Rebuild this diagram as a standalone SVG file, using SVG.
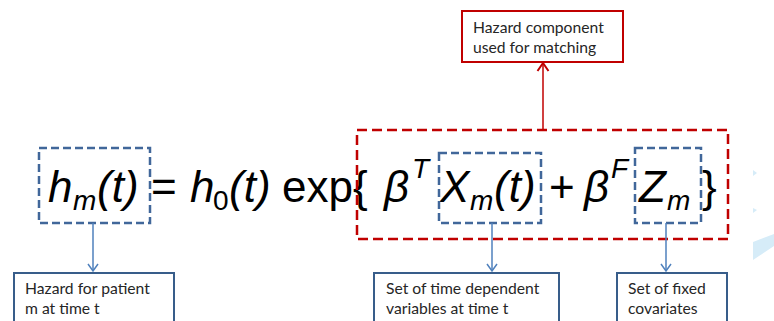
<svg xmlns="http://www.w3.org/2000/svg" width="774" height="321" viewBox="0 0 774 321">
<defs>
<style>
.eq{font-family:"Liberation Sans",Arial,sans-serif;font-size:44px;fill:#000}
.it{font-style:italic}
.sub{font-family:"Liberation Sans",Arial,sans-serif;font-size:28px;font-style:italic;fill:#000}
.lbl{font-family:Lato,"Open Sans",sans-serif;font-size:15.7px;fill:#262626}
.bdash{fill:none;stroke:#41679a;stroke-width:2.5;stroke-dasharray:8 4}
.rdash{fill:none;stroke:#c00000;stroke-width:2.5;stroke-dasharray:10 5}
.bbox{fill:#fff;stroke:#385d8a;stroke-width:2}
.rbox{fill:#fff;stroke:#c00000;stroke-width:2}
.bcon{stroke:#4f81bd;stroke-width:1.5;fill:none}
.rcon{stroke:#c00000;stroke-width:1.5;fill:none}
</style>
<marker id="ab" markerWidth="12" markerHeight="12" refX="9" refY="6" orient="auto" markerUnits="userSpaceOnUse">
<path d="M2,1 L9,6 L2,11" fill="none" stroke="#4f81bd" stroke-width="1.5"/>
</marker>
<marker id="ar" markerWidth="14" markerHeight="14" refX="10" refY="7" orient="auto" markerUnits="userSpaceOnUse">
<path d="M2,1.5 L10,7 L2,12.5" fill="none" stroke="#c00000" stroke-width="2"/>
</marker>
</defs>
<rect width="774" height="321" fill="#fff"/>
<g id="decor" fill="#d6ecf8">
<polygon points="753,170 757,173 753,176"/>
<polygon points="753,208 757,210 753,213"/>
<polygon points="753,242 774,234 774,246 753,260"/>
</g>
<g id="equation">
<text class="eq it" x="48" y="202">h</text>
<text class="sub" x="73" y="210">m</text>
<text class="eq it" x="97" y="202">(t)</text>
<text class="eq" x="151" y="202">=</text>
<text class="eq it" x="190" y="202">h</text>
<text class="sub" x="213" y="210" style="font-style:normal">0</text>
<text class="eq it" x="229" y="202">(t)</text>
<text class="eq" x="282" y="202">exp{</text>
<text class="eq it" x="384" y="202">β</text>
<text class="sub" x="412" y="178">T</text>
<text class="eq it" x="440" y="202">X</text>
<text class="sub" x="470" y="210">m</text>
<text class="eq it" x="494" y="202">(t)</text>
<text class="eq" x="549" y="202">+</text>
<text class="eq it" x="584" y="202">β</text>
<text class="sub" x="611" y="178">F</text>
<text class="eq it" x="639" y="202">Z</text>
<text class="sub" x="667" y="210">m</text>
<text class="eq" x="702" y="202">}</text>
</g>
<g id="hm-box"><rect class="bdash" x="39" y="148" width="111" height="75"/></g>
<g id="xm-box"><rect class="bdash" x="439" y="153" width="102" height="70"/></g>
<g id="zm-box"><rect class="bdash" x="635" y="148" width="66" height="75"/></g>
<g id="match-box"><rect class="rdash" x="357" y="130" width="371" height="109"/></g>
<g id="connectors">
<line class="rcon" x1="543" y1="130" x2="543" y2="63" marker-end="url(#ar)"/>
<line class="bcon" x1="93" y1="223" x2="93" y2="271" marker-end="url(#ab)"/>
<line class="bcon" x1="492" y1="223" x2="492" y2="271" marker-end="url(#ab)"/>
<line class="bcon" x1="666" y1="223" x2="666" y2="271" marker-end="url(#ab)"/>
</g>
<g id="hazard-component">
<rect class="rbox" x="462" y="11" width="161" height="51"/>
<text class="lbl" x="473" y="33">Hazard component</text>
<text class="lbl" x="473" y="53">used for matching</text>
</g>
<g id="hazard-patient">
<rect class="bbox" x="14" y="273" width="160" height="60"/>
<text class="lbl" x="25" y="294">Hazard for patient</text>
<text class="lbl" x="25" y="314">m at time t</text>
</g>
<g id="time-dependent">
<rect class="bbox" x="374" y="273" width="185" height="60"/>
<text class="lbl" x="386" y="294">Set of time dependent</text>
<text class="lbl" x="386" y="314">variables at time t</text>
</g>
<g id="fixed-covariates">
<rect class="bbox" x="617" y="273" width="110" height="60"/>
<text class="lbl" x="628" y="294">Set of fixed</text>
<text class="lbl" x="628" y="314">covariates</text>
</g>
</svg>
